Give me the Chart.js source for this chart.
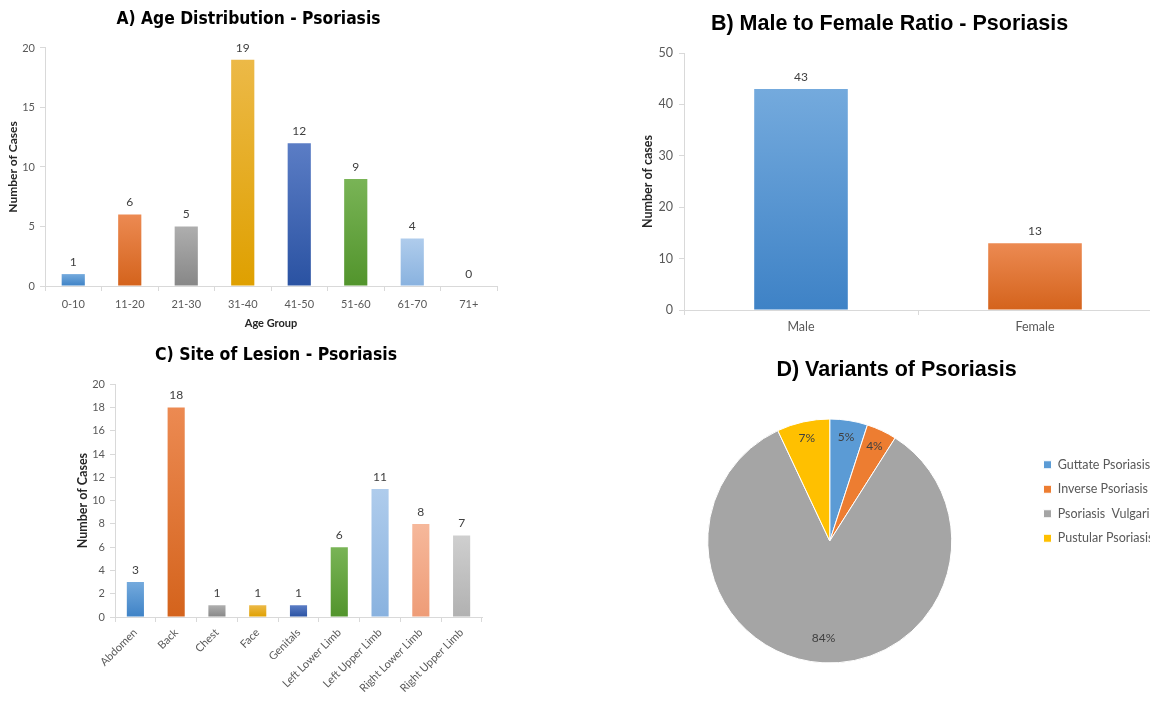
<!DOCTYPE html>
<html>
<head>
<meta charset="utf-8">
<title>Psoriasis case profile</title>
<script src="https://cdn.jsdelivr.net/npm/chart.js@4.4.1/dist/chart.umd.min.js"></script>
<style>
  html, body { margin: 0; padding: 0; width: 1150px; height: 702px; overflow: hidden; background: #ffffff; }
  canvas { position: absolute; display: block; }
  #ageChart { left: 0; top: 0; }
  #sexChart { left: 620px; top: 0; }
  #siteChart { left: 0; top: 340px; }
  #variantChart { left: 620px; top: 340px; }
</style>
</head>
<body>
<canvas id="ageChart" width="510" height="340"></canvas>
<canvas id="sexChart" width="540" height="340"></canvas>
<canvas id="siteChart" width="500" height="362"></canvas>
<canvas id="variantChart" width="560" height="362"></canvas>
<script>
// ---- data ----
const ageGroups = ['0-10', '11-20', '21-30', '31-40', '41-50', '51-60', '61-70', '71+'];
const ageCases = [1, 6, 5, 19, 12, 9, 4, 0];

const sexLabels = ['Male', 'Female'];
const sexCases = [43, 13];

const lesionSites = ['Abdomen', 'Back', 'Chest', 'Face', 'Genitals', 'Left Lower Limb',
  'Left Upper Limb', 'Right Lower Limb', 'Right Upper Limb'];
const lesionCases = [3, 18, 1, 1, 1, 6, 11, 8, 7];

const variantNames = ['Guttate Psoriasis', 'Inverse Psoriasis', 'Psoriasis  Vulgaris', 'Pustular Psoriasis'];
const variantPercents = [5, 4, 84, 7];

const ageTicks = [0, 5, 10, 15, 20];
const sexTicks = [0, 10, 20, 30, 40, 50];
const lesionTicks = [0, 2, 4, 6, 8, 10, 12, 14, 16, 18, 20];

// ---- styling ----
const AXIS_GREY = '#D9D9D9';
const TICK_TEXT = '#595959';
const VALUE_TEXT = '#404040';
const NARROW = "'Liberation Sans Narrow', 'Arial Narrow', 'DejaVu Sans Condensed', sans-serif";
const ARIAL = "'Liberation Sans', Arial, sans-serif";

Chart.defaults.font.family = "Lato, Carlito, 'Open Sans', sans-serif";
Chart.defaults.color = TICK_TEXT;
Chart.defaults.animation = false;

// light (top) and dark (bottom) ends of each bar fill
const shade = {
  blue:   ['#74AADD', '#3E82C6'],
  orange: ['#EC8A52', '#D4631C'],
  grey:   ['#AEAEAE', '#878787'],
  gold:   ['#ECB947', '#DFA000'],
  navy:   ['#5B7DC5', '#2A52A2'],
  green:  ['#79B456', '#52942C'],
  sky:    ['#AFCCEC', '#89B2DF'],
  salmon: ['#F6B89B', '#EE9C77'],
  silver: ['#CFCFCF', '#B1B1B1']
};
const ageShades = [shade.blue, shade.orange, shade.grey, shade.gold, shade.navy, shade.green, shade.sky, shade.silver];
const sexShades = [shade.blue, shade.orange];
const siteShades = [shade.blue, shade.orange, shade.grey, shade.gold, shade.navy, shade.green, shade.sky, shade.salmon, shade.silver];
const pieColours = ['#5B9BD5', '#ED7D31', '#A5A5A5', '#FFC000'];

// vertical gradient running over each bar's own height
function barGradient(palette) {
  return (ctx) => {
    const [top, bottom] = palette[ctx.dataIndex % palette.length];
    const chart = ctx.chart;
    const yScale = chart.scales && chart.scales.y;
    if (!chart.chartArea || !yScale) return bottom;
    const yBase = yScale.getPixelForValue(0);
    const yTop = yScale.getPixelForValue(ctx.raw);
    if (!isFinite(yTop) || !isFinite(yBase) || yTop >= yBase) return bottom;
    const g = chart.ctx.createLinearGradient(0, yTop, 0, yBase);
    g.addColorStop(0, top);
    g.addColorStop(1, bottom);
    return g;
  };
}

// value printed above every bar
const barValues = {
  id: 'barValues',
  afterDatasetsDraw(chart) {
    const c = chart.ctx;
    const values = chart.data.datasets[0].data;
    c.save();
    c.font = '12px Lato, Carlito, sans-serif';
    c.fillStyle = VALUE_TEXT;
    c.textAlign = 'center';
    c.textBaseline = 'bottom';
    chart.getDatasetMeta(0).data.forEach((bar, i) => {
      c.fillText(String(values[i]), bar.x, bar.y - 6);
    });
    c.restore();
  }
};

// percentage written inside each pie slice, near the rim
const sliceValues = {
  id: 'sliceValues',
  afterDatasetsDraw(chart) {
    const c = chart.ctx;
    const values = chart.data.datasets[0].data;
    c.save();
    c.font = '12px Lato, Carlito, sans-serif';
    c.fillStyle = VALUE_TEXT;
    c.textAlign = 'center';
    c.textBaseline = 'middle';
    chart.getDatasetMeta(0).data.forEach((arc, i) => {
      const p = arc.getProps(['x', 'y', 'startAngle', 'endAngle', 'outerRadius'], true);
      const mid = (p.startAngle + p.endAngle) / 2;
      const r = p.outerRadius * (values[i] > 50 ? 0.8 : 0.86);
      c.fillText(values[i] + '%', p.x + Math.cos(mid) * r, p.y + Math.sin(mid) * r);
    });
    c.restore();
  }
};

function valueAxis(tickValues, title, width, titleGap, labelGap, tickSize, titleSize) {
  return {
    min: tickValues[0],
    max: tickValues[tickValues.length - 1],
    afterBuildTicks: (s) => { s.ticks = tickValues.map(v => ({ value: v })); },
    ticks: { padding: labelGap, color: TICK_TEXT, font: { size: tickSize } },
    grid: { display: true, drawOnChartArea: false, drawTicks: true, tickLength: 5, color: AXIS_GREY },
    border: { display: true, color: AXIS_GREY, width: 1 },
    title: { display: true, text: title, color: '#262626', font: { size: titleSize, weight: 'bold' },
             padding: { top: titleGap, bottom: 0 } },
    afterFit: (s) => { s.width = width; }
  };
}

function categoryAxis(height, labelGap, rotation, tickSize, title, titleGap) {
  return {
    ticks: { padding: labelGap, color: TICK_TEXT, font: { size: tickSize }, autoSkip: false,
             minRotation: rotation, maxRotation: rotation },
    grid: { display: true, drawOnChartArea: false, drawTicks: true, tickLength: 5, color: AXIS_GREY, offset: true },
    border: { display: true, color: AXIS_GREY, width: 1 },
    title: title
      ? { display: true, text: title, color: '#262626', font: { size: 11, weight: 'bold' },
          padding: { top: 0, bottom: titleGap } }
      : { display: false },
    afterFit: (s) => { s.height = height; }
  };
}

function heading(text, family, size, top, bottom) {
  return { display: true, text, color: '#000000', font: { family, size, weight: 'bold' },
           padding: { top, bottom } };
}

// A) age distribution
new Chart(document.getElementById('ageChart'), {
  type: 'bar',
  data: {
    labels: ageGroups,
    datasets: [{ data: ageCases, backgroundColor: barGradient(ageShades),
                 categoryPercentage: 1, barPercentage: 0.41 }]
  },
  options: {
    responsive: false, events: [],
    layout: { padding: { left: 0, right: 13, top: 0, bottom: 0 } },
    scales: {
      x: categoryAxis(54, 7, 0, 11, 'Age Group', 10),
      y: valueAxis(ageTicks, 'Number of Cases', 45, 5.5, 5, 11, 12)
    },
    plugins: {
      title: heading('A) Age Distribution - Psoriasis', NARROW, 17.3, 9.6, 17.6),
      legend: { display: false }, tooltip: { enabled: false }
    }
  },
  plugins: [barValues]
});

// B) male to female ratio
new Chart(document.getElementById('sexChart'), {
  type: 'bar',
  data: {
    labels: sexLabels,
    datasets: [{ data: sexCases, backgroundColor: barGradient(sexShades),
                 categoryPercentage: 1, barPercentage: 0.4 }]
  },
  options: {
    responsive: false, events: [],
    layout: { padding: { left: 7, right: 8, top: 0, bottom: 0 } },
    scales: {
      x: categoryAxis(30, 4, 0, 12.5, null, 0),
      y: valueAxis(sexTicks, 'Number of cases', 57, 13.5, 6, 12.5, 12.5)
    },
    plugins: {
      title: heading('B) Male to Female Ratio - Psoriasis', ARIAL, 21.5, 11.1, 16.1),
      legend: { display: false }, tooltip: { enabled: false }
    }
  },
  plugins: [barValues]
});

// C) site of lesion
new Chart(document.getElementById('siteChart'), {
  type: 'bar',
  data: {
    labels: lesionSites,
    datasets: [{ data: lesionCases, backgroundColor: barGradient(siteShades),
                 categoryPercentage: 1, barPercentage: 0.42 }]
  },
  options: {
    responsive: false, events: [],
    layout: { padding: { left: 70, right: 18, top: 0, bottom: 0 } },
    scales: {
      x: categoryAxis(85, 4, 45, 11, null, 0),
      y: valueAxis(lesionTicks, 'Number of Cases', 45, 5.5, 5, 11, 12.5)
    },
    plugins: {
      title: heading('C) Site of Lesion - Psoriasis', NARROW, 17.5, 4.6, 18.6),
      legend: { display: false }, tooltip: { enabled: false }
    }
  },
  plugins: [barValues]
});

// D) variants
new Chart(document.getElementById('variantChart'), {
  type: 'pie',
  data: {
    labels: variantNames,
    datasets: [{ data: variantPercents, backgroundColor: pieColours,
                 borderColor: '#ffffff', borderWidth: 1, hoverOffset: 0 }]
  },
  options: {
    responsive: false, events: [], radius: 122,
    layout: { padding: { left: 8, right: 15, top: 0, bottom: 39 } },
    plugins: {
      title: heading('D) Variants of Psoriasis', ARIAL, 21.5, 17.1, 36.1),
      legend: {
        position: 'right',
        labels: { boxWidth: 8, boxHeight: 8, padding: 12, color: TICK_TEXT, font: { size: 12.5 } }
      },
      tooltip: { enabled: false }
    }
  },
  plugins: [sliceValues]
});
</script>
</body>
</html>
